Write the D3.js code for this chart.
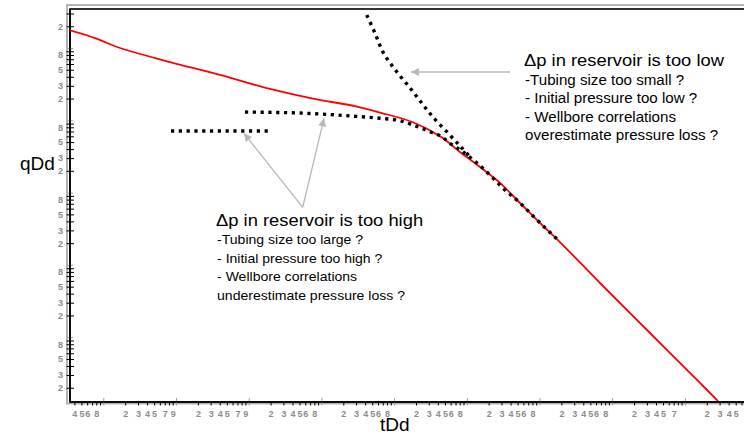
<!DOCTYPE html>
<html>
<head>
<meta charset="utf-8">
<script src="https://cdn.jsdelivr.net/npm/d3@7"></script>
<style>
  html, body { margin: 0; padding: 0; background: #fff; }
  svg { display: block; }
  text { font-family: "Liberation Sans", Arial, Helvetica, sans-serif; }
</style>
</head>
<body>
<svg id="chart" width="744" height="434"></svg>
<script>
// Rate type curve (dimensionless time vs dimensionless decline rate)
const tDd = [3.48e-5, 7.69e-5, 1.70e-4, 8.26e-4, 4.03e-3, 1.96e-2, 7.66e-2, 0.309, 0.640,
             1.82, 4.28, 8.05, 15.2, 28.6, 54.0, 101.6, 191, 679, 3311, 16140, 28510];
const qDd = [17.5, 13.7, 10.0, 6.40, 4.24, 2.71, 1.99, 1.55, 1.28,
             0.94, 0.60, 0.365, 0.226, 0.136, 0.0718, 0.0380, 0.0207, 0.00562, 0.001143, 0.000233, 0.000131];

// Measured data, reservoir pressure drop too high (two shifted segments)
const highEarlyT = [8.53e-4, 1.84e-2];
const highEarlyQ = [0.711, 0.711];
const highLateT = [8.89e-3, 5.08e-2, 0.247, 0.640, 1.205, 1.82, 3.12, 4.52, 5.87, 8.87, 13.7, 20.8, 33.5, 54.0, 86.7, 179.5];
const highLateQ = [1.30, 1.26, 1.15, 1.066, 0.987, 0.861, 0.695, 0.593, 0.481, 0.365, 0.259, 0.175, 0.109, 0.0718, 0.0446, 0.0221];

// Measured data, reservoir pressure drop too low
const lowT = [0.420, 0.546, 0.714, 1.086, 1.66, 2.40, 3.42, 5.50, 8.05, 11.1];
const lowQ = [28.6, 16.1, 8.53, 4.70, 2.80, 1.73, 1.11, 0.667, 0.442, 0.310];

// Axis tick labels (mantissas shown per decade)
const xDecades = [-5, -4, -3, -2, -1, 0, 1, 2, 3, 4];
const xTickLabels = [[4,5,6,8],[2,3,4,5,7,9],[2,3,4,5,7,9],[2,3,4,5,6,8],[2,3,4,5,6,8],
                     [2,3,4,5,6,8],[2,3,4,5,6,8],[2,3,4,5,6,8],[2,3,4,5,7],[2,3,4,5]];
const yDecades = [-4, -3, -2, -1, 0, 1];
const yTickLabels = [[2,3,5,8],[2,3,5,8],[2,3,5,8],[2,3,5,8],[2,3,5,8],[2]];

// Annotation arrows [from, to] in data units
const arrowLow = [[39.3, 4.66], [1.708, 4.66]];
const arrowHighA = [[0.0553, 0.0626], [8.61e-3, 0.661]];
const arrowHighB = [[0.0553, 0.0626], [0.1087, 1.066]];

const textLow = ["Δp in reservoir is too low", "-Tubing size too small ?", "- Initial pressure too low ?",
                 "- Wellbore correlations", "overestimate pressure loss ?"];
const textHigh = ["Δp in reservoir is too high", "-Tubing size too large ?", "- Initial pressure too high ?",
                  "- Wellbore correlations", "underestimate pressure loss ?"];

const svg = d3.select("#chart");
const L = 70, T = 9, R = 770, B = 402;

const x = d3.scaleLog().domain([1e-4, 1e5]).range([103.3, 757.6]);
const y = d3.scaleLog().domain([1e-4, 10]).range([409.5, 48]);
const xMin = x.invert(L), xMax = x.invert(R);
const yMin = y.invert(B), yMax = y.invert(T);

// frame: grey bevel outside, black inner box
svg.append("rect").attr("x", 67).attr("y", 5).attr("width", 800).attr("height", 398.5)
  .attr("fill", "none").attr("stroke", "#b4b4b4").attr("stroke-width", 2);
svg.append("rect").attr("x", L).attr("y", T).attr("width", R - L).attr("height", B - T)
  .attr("fill", "#fff").attr("stroke", "#000").attr("stroke-width", 1.6);

svg.append("defs").append("clipPath").attr("id", "plotClip")
  .append("rect").attr("x", L).attr("y", T).attr("width", R - L).attr("height", B - T);

// tick values
const xMinor = [], xLabelSet = new Set();
xDecades.forEach((e, i) => {
  for (let m = 2; m <= 9; m++) {
    const v = m * Math.pow(10, e);
    if (v >= xMin && v <= xMax) xMinor.push(v);
  }
  xTickLabels[i].forEach(m => xLabelSet.add(+(m * Math.pow(10, e)).toPrecision(3)));
});
const yMinor = [], yLabelSet = new Set();
yDecades.forEach((e, i) => {
  for (let m = 2; m <= 9; m++) {
    const v = m * Math.pow(10, e);
    if (v >= yMin && v <= yMax) yMinor.push(v);
  }
  yTickLabels[i].forEach(m => yLabelSet.add(+(m * Math.pow(10, e)).toPrecision(3)));
});
const mant = v => String(Math.round(v / Math.pow(10, Math.floor(Math.log10(v) + 1e-9))));
const xFmt = v => xLabelSet.has(+v.toPrecision(3)) ? mant(v) : "";
const yFmt = v => yLabelSet.has(+v.toPrecision(3)) ? mant(v) : "";

const xDec = xDecades.map(e => Math.pow(10, e)).filter(v => v >= xMin && v <= xMax);
const yDec = yDecades.map(e => Math.pow(10, e)).filter(v => v >= yMin && v <= yMax);

// x axis
const gx = svg.append("g").attr("transform", `translate(0,${B})`)
  .call(d3.axisBottom(x).tickValues(xMinor).tickFormat(xFmt).tickSizeInner(3.5).tickSizeOuter(0).tickPadding(5));
gx.select(".domain").remove();
gx.selectAll(".tick line").attr("stroke", "#000").attr("stroke-width", 1);
gx.selectAll(".tick text").attr("fill", "#8c8c8c").attr("font-size", 9).attr("font-weight", "bold")
  .attr("font-family", "Liberation Sans, Arial, sans-serif");
const gxd = svg.append("g").attr("transform", `translate(0,${B})`)
  .call(d3.axisBottom(x).tickValues(xDec).tickFormat("").tickSizeInner(3.5).tickSizeOuter(0));
gxd.select(".domain").remove();
gxd.selectAll(".tick line").attr("y1", -4).attr("stroke", "#a0a0a0").attr("stroke-width", 1);

// y axis
const gy = svg.append("g").attr("transform", `translate(${L},0)`)
  .call(d3.axisLeft(y).tickValues(yMinor).tickFormat(yFmt).tickSizeInner(3.5).tickSizeOuter(0).tickPadding(3.5));
gy.select(".domain").remove();
gy.selectAll(".tick line").attr("x1", 4).attr("stroke", "#000").attr("stroke-width", 1);
gy.selectAll(".tick text").attr("fill", "#8c8c8c").attr("font-size", 9).attr("font-weight", "bold")
  .attr("font-family", "Liberation Sans, Arial, sans-serif");
const gyd = svg.append("g").attr("transform", `translate(${L},0)`)
  .call(d3.axisLeft(y).tickValues(yDec).tickFormat("").tickSizeInner(3).tickSizeOuter(0));
gyd.select(".domain").remove();
gyd.selectAll(".tick line").attr("x1", 3).attr("stroke", "#a0a0a0").attr("stroke-width", 1);

// redraw inner black frame edges over tick marks
svg.append("line").attr("x1", L).attr("x2", R).attr("y1", B).attr("y2", B).attr("stroke", "#000").attr("stroke-width", 1.6);
svg.append("line").attr("x1", L).attr("x2", L).attr("y1", T).attr("y2", B).attr("stroke", "#000").attr("stroke-width", 1.6);

// curves
const plot = svg.append("g").attr("clip-path", "url(#plotClip)");
const pts = (ts, qs) => ts.map((t, i) => [t, qs[i]]);
const lineOf = curve => d3.line().x(d => x(d[0])).y(d => y(d[1])).curve(curve);

plot.append("path").datum(pts(tDd, qDd)).attr("d", lineOf(d3.curveCatmullRom.alpha(0.5)))
  .attr("fill", "none").attr("stroke", "#ff0000").attr("stroke-width", 1.8);

const dotted = (ts, qs, curve) => plot.append("path").datum(pts(ts, qs))
  .attr("d", lineOf(curve))
  .attr("fill", "none").attr("stroke", "#000").attr("stroke-width", 3.4)
  .attr("stroke-dasharray", "3.2 4.6").attr("stroke-linecap", "butt");
dotted(highEarlyT, highEarlyQ, d3.curveLinear);
dotted(highLateT, highLateQ, d3.curveMonotoneX);
dotted(lowT, lowQ, d3.curveCatmullRom);

// arrows
const defs = svg.select("defs");
defs.append("marker").attr("id", "arrowHead").attr("viewBox", "0 0 10 10")
  .attr("refX", 10).attr("refY", 5).attr("markerWidth", 11).attr("markerHeight", 8)
  .attr("markerUnits", "userSpaceOnUse").attr("orient", "auto")
  .append("path").attr("d", "M0,0L10,5L0,10Z").attr("fill", "#b8b8b8");
[arrowLow, arrowHighA, arrowHighB].forEach(a => {
  svg.append("line")
    .attr("x1", x(a[0][0])).attr("y1", y(a[0][1]))
    .attr("x2", x(a[1][0])).attr("y2", y(a[1][1]))
    .attr("stroke", "#b8b8b8").attr("stroke-width", 1.3)
    .attr("marker-end", "url(#arrowHead)");
});

// annotation blocks
function block(lines, x0, y0, gap0, gap, subSize) {
  const g = svg.append("g").attr("transform", `translate(${x0},0) scale(1.08,1)`);
  lines.forEach((s, i) => {
    g.append("text").attr("x", i === 0 ? 0 : 1)
      .attr("y", i === 0 ? y0 : y0 + gap0 + (i - 1) * gap)
      .attr("font-size", i === 0 ? 17 : subSize).attr("fill", "#000").text(s);
  });
}
block(textLow, 524, 66, 19, 18.5, 14);
block(textHigh, 216, 226, 18.5, 18.5, 13);

// axis titles
svg.append("text").attr("x", 20).attr("y", 170).attr("font-size", 19).attr("fill", "#000").text("qDd");
svg.append("text").attr("x", 380).attr("y", 431).attr("font-size", 19).attr("fill", "#000").text("tDd");
</script>
</body>
</html>
